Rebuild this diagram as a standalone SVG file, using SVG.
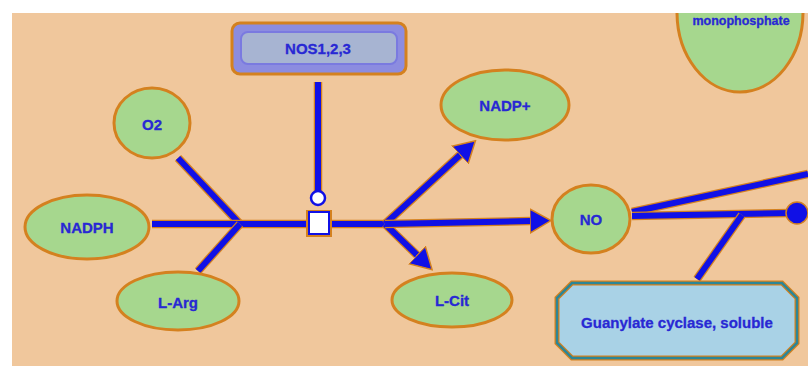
<svg xmlns="http://www.w3.org/2000/svg" xmlns:xlink="http://www.w3.org/1999/xlink" width="808" height="366" viewBox="0 0 808 366">
<style>
.bg{fill:#F0C79C}
.ell{fill:#A6D78E;stroke:#D4811F;stroke-width:3}
.lbl{font-family:"Liberation Sans",Arial,sans-serif;font-weight:bold;font-size:15px;fill:#2828D4;stroke:#2828D4;stroke-width:0.3;text-anchor:middle;dominant-baseline:central}
.under{fill:none;stroke:#D4811F;stroke-width:8.5;stroke-linecap:butt}
.edge{fill:none;stroke:#1010E6;stroke-width:6;stroke-linecap:butt}
</style>
<defs>
<clipPath id="area"><rect x="12" y="13" width="796" height="353"/></clipPath>
<marker id="arr" viewBox="0 0 22 26" refX="0" refY="13" markerWidth="22" markerHeight="26" markerUnits="userSpaceOnUse" orient="auto">
<path d="M0,1 L21,13 L0,25 Z" fill="#1010E6" stroke="#D4811F" stroke-width="1.5"/>
</marker>
<path id="e1" d="M178,158 L240,224"/>
<path id="e2" d="M152,224 L385,224"/>
<path id="e3" d="M198,271 L240,224"/>
<path id="e4" d="M318,82 L318,192"/>
<path id="e5" d="M385,224 L460,155"/>
<path id="e6" d="M385,224 L417,255"/>
<path id="e7" d="M385,224 L530,221"/>
<path id="e8" d="M632,212 L808,174"/>
<path id="e9" d="M632,216 L790,213"/>
<path id="e10" d="M697,279 L742,215"/>
</defs>
<rect x="0" y="0" width="808" height="366" fill="#FFFFFF"/>
<rect class="bg" x="12" y="13" width="796" height="353"/>

<g id="connectors">
<use xlink:href="#e1" class="under"/><use xlink:href="#e1" class="edge"/>
<use xlink:href="#e2" class="under"/><use xlink:href="#e2" class="edge"/>
<use xlink:href="#e3" class="under"/><use xlink:href="#e3" class="edge"/>
<use xlink:href="#e4" class="under"/><use xlink:href="#e4" class="edge"/>
<use xlink:href="#e5" class="under"/><use xlink:href="#e5" class="edge" marker-end="url(#arr)"/>
<use xlink:href="#e6" class="under"/><use xlink:href="#e6" class="edge" marker-end="url(#arr)"/>
<use xlink:href="#e7" class="under"/><use xlink:href="#e7" class="edge" marker-end="url(#arr)"/>
<use xlink:href="#e8" class="under"/><use xlink:href="#e8" class="edge"/>
<use xlink:href="#e9" class="under"/><use xlink:href="#e9" class="edge"/>
<use xlink:href="#e10" class="under"/><use xlink:href="#e10" class="edge"/>
<circle cx="797" cy="213" r="11" fill="#1010E6" stroke="#D4811F" stroke-width="1.5"/>
<circle cx="318" cy="198" r="7" fill="#FFFFFF" stroke="#1010E6" stroke-width="2.5"/>
<rect x="306" y="210" width="26" height="27" fill="#D4811F"/>
<rect x="309" y="212" width="20" height="22" fill="#FFFFFF" stroke="#1010E6" stroke-width="2"/>
</g>

<g id="node-nos">
<rect x="232" y="23" width="174" height="51" rx="8" fill="#8C8CE0" stroke="#D4811F" stroke-width="3"/>
<rect x="241" y="32" width="156" height="32" rx="7" fill="#A7B4D2" stroke="#7A7AE0" stroke-width="2"/>
<text class="lbl" x="318" y="48">NOS1,2,3</text>
</g>

<g id="node-o2">
<ellipse class="ell" cx="152" cy="123" rx="38" ry="35"/>
<text class="lbl" x="152" y="124">O2</text>
</g>

<g id="node-nadph">
<ellipse class="ell" cx="87" cy="227" rx="62" ry="32"/>
<text class="lbl" x="87" y="227">NADPH</text>
</g>

<g id="node-larg">
<ellipse class="ell" cx="178" cy="301" rx="61" ry="29"/>
<text class="lbl" x="178" y="302">L-Arg</text>
</g>

<g id="node-nadp">
<ellipse class="ell" cx="505" cy="105" rx="64" ry="35"/>
<text class="lbl" x="505" y="105">NADP+</text>
</g>

<g id="node-lcit">
<ellipse class="ell" cx="452" cy="300" rx="60" ry="27"/>
<text class="lbl" x="452" y="300">L-Cit</text>
</g>

<g id="node-no">
<ellipse class="ell" cx="591" cy="219" rx="39" ry="34"/>
<text class="lbl" x="591" y="219">NO</text>
</g>

<g id="node-gmp" clip-path="url(#area)">
<ellipse class="ell" cx="740" cy="12" rx="63" ry="80"/>
<text class="lbl" x="741" y="21" style="font-size:12.5px">monophosphate</text>
</g>

<g id="node-gc">
<path d="M572,283 L782,283 L797,298 L797,343 L782,358 L572,358 L557,343 L557,298 Z" fill="#A9D2E6" stroke="#D4811F" stroke-width="5"/>
<path d="M572,283 L782,283 L797,298 L797,343 L782,358 L572,358 L557,343 L557,298 Z" fill="none" stroke="#2C8697" stroke-width="2.5"/>
<text class="lbl" x="677" y="322">Guanylate cyclase, soluble</text>
</g>
</svg>
